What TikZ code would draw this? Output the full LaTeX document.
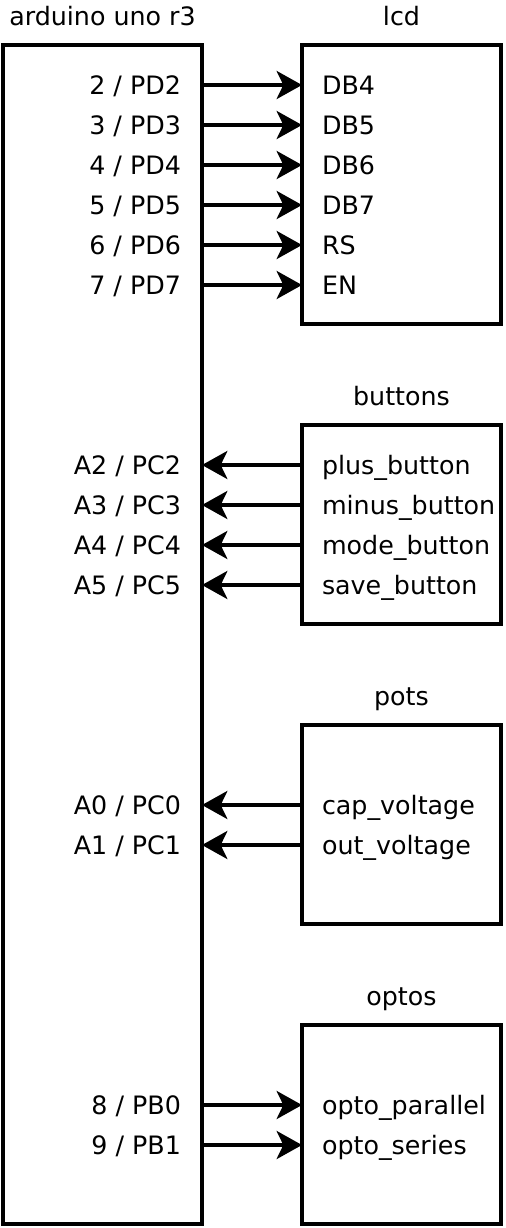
\documentclass[tikz,border=0pt]{standalone}
\usepackage{fontspec}
\setmainfont{DejaVu Sans}
\usetikzlibrary{arrows.meta}
\begin{document}
\begin{tikzpicture}[x=0.75pt,y=-0.75pt,line width=2.8pt,>={Stealth[length=19pt,width=21pt,inset=5pt]}]
	\tikzset{every node/.style={font=\fontsize{19}{23}\selectfont,inner sep=0pt,outer sep=0pt},
		box/.style={draw,minimum width=149.25pt,minimum height=149.25pt},
		pin/.style={text height=13.8pt,text depth=0pt},
		title/.style={anchor=base,yshift=15pt}}
	\useasboundingbox (0,0) rectangle (506,1228);
	\node[box,minimum height=884.25pt] (uno) at (102.5,634.5) {};
	\node[box,minimum height=209.25pt] (lcd) at (401.5,184.5) {};
	\node[box] (buttons) at (401.5,524.5) {};
	\node[box] (pots) at (401.5,824.5) {};
	\node[box] (optos) at (401.5,1124.5) {};
	\node[title] (unotitle) at (uno.north) {arduino uno r3};
	\node[title] (lcdtitle) at (lcd.north) {lcd};
	\node[title] (buttonstitle) at (buttons.north) {buttons};
	\node[title] (potstitle) at (pots.north) {pots};
	\node[title] (optostitle) at (optos.north) {optos};
	\foreach \y/\a/\b/\c/\d in {85/pd2/{2 / PD2}/db4/DB4,125/pd3/{3 / PD3}/db5/DB5,165/pd4/{4 / PD4}/db6/DB6,205/pd5/{5 / PD5}/db7/DB7,245/pd6/{6 / PD6}/rs/RS,285/pd7/{7 / PD7}/en/EN}{
		\node[pin,anchor=east] (\a) at (181,\y) {\b};
		\node[pin,anchor=west] (\c) at (322,\y) {\d};
		\draw[->] (\a.east -| uno.east) -- (\c.west -| lcd.west);
	}
	\foreach \y/\a/\b/\c/\d in {465/pc2/{A2 / PC2}/plus/{plus\_button},505/pc3/{A3 / PC3}/minus/{minus\_button},545/pc4/{A4 / PC4}/mode/{mode\_button},585/pc5/{A5 / PC5}/save/{save\_button}}{
		\node[pin,anchor=east] (\a) at (181,\y) {\b};
		\node[pin,anchor=west] (\c) at (322,\y) {\d};
		\draw[->] (\c.west -| buttons.west) -- (\a.east -| uno.east);
	}
	\foreach \y/\a/\b/\c/\d in {805/pc0/{A0 / PC0}/cap/{cap\_voltage},845/pc1/{A1 / PC1}/out/{out\_voltage}}{
		\node[pin,anchor=east] (\a) at (181,\y) {\b};
		\node[pin,anchor=west] (\c) at (322,\y) {\d};
		\draw[->] (\c.west -| pots.west) -- (\a.east -| uno.east);
	}
	\foreach \y/\a/\b/\c/\d in {1105/pb0/{8 / PB0}/parallel/{opto\_parallel},1145/pb1/{9 / PB1}/series/{opto\_series}}{
		\node[pin,anchor=east] (\a) at (181,\y) {\b};
		\node[pin,anchor=west] (\c) at (322,\y) {\d};
		\draw[->] (\a.east -| uno.east) -- (\c.west -| optos.west);
	}
\end{tikzpicture}
\end{document}
